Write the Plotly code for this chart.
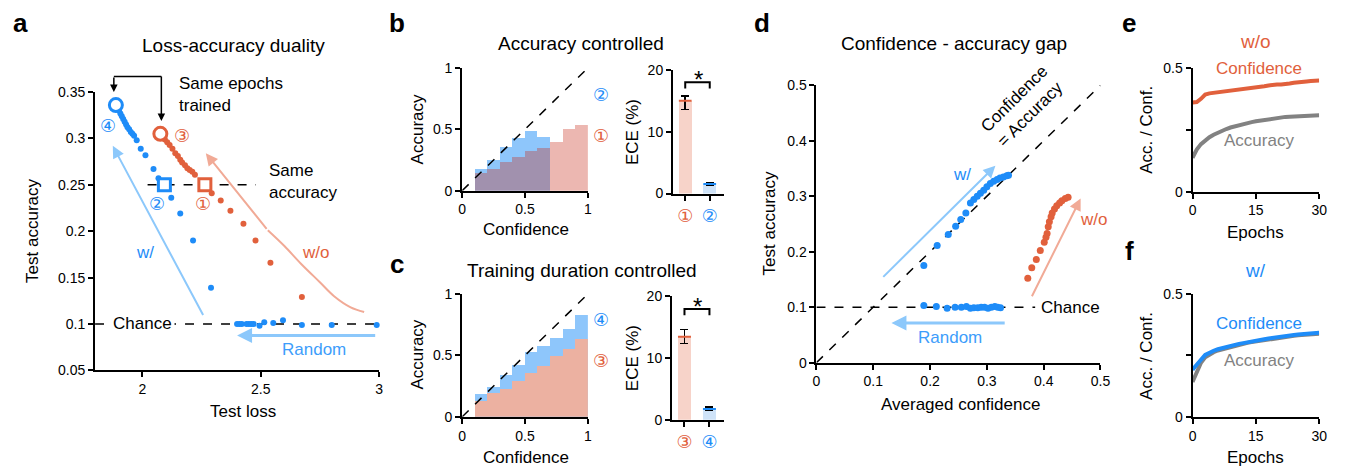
import plotly.graph_objects as go

W, H = 1348, 475
BLUE = '#1e8cf8'
ORANGE = '#e1603c'
LBLUE = '#8cc8fb'
RANDBLUE = '#3d9dfb'
LORANGE = '#f1aa96'
GRAY = '#828282'
FONT = 'Liberation Sans, Arial, Helvetica, sans-serif'
CIRC_SIZE = 18

# ---------------- data ----------------
CHANCE = 0.1
SAME_ACC = 0.25

# panel a: test loss vs test accuracy
w_loss = [1.888, 1.895, 1.901, 1.907, 1.913, 1.919, 1.925, 1.931, 1.937, 1.944, 1.951,
          1.958, 1.965, 1.976, 1.993, 2.013, 2.047, 2.068, 2.093, 2.122, 2.160, 2.214, 2.290]
w_acc = [0.336, 0.333, 0.330, 0.327, 0.324, 0.321, 0.318, 0.315, 0.312, 0.310, 0.307,
         0.305, 0.303, 0.298, 0.289, 0.282, 0.267, 0.257, 0.250, 0.236, 0.219, 0.190, 0.139]
w_same_idx = 18
rand_loss = [2.40, 2.41, 2.42, 2.44, 2.45, 2.46, 2.47, 2.495, 2.515, 2.553, 2.594, 2.674, 2.80, 2.99]
rand_acc = [0.100, 0.100, 0.100, 0.100, 0.100, 0.100, 0.100, 0.098, 0.102, 0.101, 0.104, 0.099, 0.099, 0.099]
wo_loss = [2.076, 2.085, 2.095, 2.105, 2.115, 2.127, 2.139, 2.150, 2.160, 2.168, 2.180, 2.190,
           2.200, 2.211, 2.222, 2.264, 2.293, 2.331, 2.372, 2.427, 2.478, 2.541, 2.674]
wo_acc = [0.305, 0.302, 0.299, 0.296, 0.293, 0.289, 0.284, 0.281, 0.277, 0.274, 0.271, 0.268,
          0.266, 0.264, 0.261, 0.250, 0.241, 0.233, 0.222, 0.208, 0.190, 0.166, 0.129]
wo_same_idx = 15
wo_curve_x = [2.53, 2.60, 2.67, 2.75, 2.81, 2.88, 2.937]
wo_curve_y = [0.201, 0.184, 0.165, 0.145, 0.130, 0.118, 0.113]

# panels b, c: reliability histograms (bin left edges)
bin_left = [0.1, 0.2, 0.3, 0.4, 0.5, 0.6, 0.7, 0.8, 0.9]
b_acc_1 = [0.144, 0.173, 0.231, 0.276, 0.320, 0.349, 0.400, 0.504, 0.533]
b_acc_2 = [0.176, 0.252, 0.354, 0.428, 0.490, 0.438, None, None, None]
c_acc_3 = [0.126, 0.192, 0.226, 0.289, 0.355, 0.410, 0.495, 0.553, 0.632]
c_acc_4 = [0.184, 0.242, 0.342, 0.421, 0.526, 0.574, 0.645, 0.718, 0.832]

# ECE bars
ece_b_labels = ['①', '②']
ece_b_mean = [15.0, 1.55]
ece_b_hi = [0.8, 0.25]
ece_b_lo = [1.4, 0.2]
ece_c_labels = ['③', '④']
ece_c_mean = [13.4, 1.72]
ece_c_hi = [1.2, 0.35]
ece_c_lo = [1.1, 0.25]

# panel d: averaged confidence vs test accuracy
dw_conf = [0.189, 0.2125, 0.232, 0.245, 0.254, 0.263, 0.271, 0.277, 0.283, 0.2886, 0.2944,
           0.300, 0.306, 0.312, 0.318, 0.323, 0.329, 0.335, 0.338]
dw_acc = [0.175, 0.211, 0.231, 0.246, 0.258, 0.270, 0.288, 0.294, 0.300, 0.3055, 0.311,
          0.317, 0.323, 0.327, 0.330, 0.333, 0.3345, 0.337, 0.338]
drand_conf = [0.189, 0.211, 0.230, 0.244, 0.255, 0.264, 0.271, 0.277, 0.284, 0.290, 0.296,
              0.302, 0.308, 0.314, 0.319, 0.324]
drand_acc = [0.103, 0.101, 0.098, 0.100, 0.100, 0.101, 0.098, 0.099, 0.099, 0.100, 0.100,
             0.098, 0.100, 0.101, 0.100, 0.099]
dwo_conf = [0.372, 0.379, 0.387, 0.394, 0.401, 0.404, 0.406, 0.408, 0.410, 0.413, 0.415,
            0.419, 0.423, 0.428, 0.432, 0.438, 0.443]
dwo_acc = [0.152, 0.171, 0.186, 0.202, 0.217, 0.226, 0.233, 0.245, 0.254, 0.263, 0.270,
           0.277, 0.283, 0.288, 0.292, 0.296, 0.298]

# panels e, f: curves over epochs
epochs = list(range(31))
e_conf = [0.360, 0.362, 0.375, 0.392, 0.397, 0.399, 0.401, 0.403, 0.405, 0.407, 0.410,
          0.413, 0.416, 0.418, 0.420, 0.422, 0.424, 0.426, 0.429, 0.432, 0.433, 0.433,
          0.434, 0.437, 0.440, 0.443, 0.444, 0.445, 0.447, 0.448, 0.449]
e_acc = [0.137, 0.170, 0.192, 0.208, 0.220, 0.230, 0.239, 0.247, 0.253, 0.259, 0.264,
         0.268, 0.273, 0.277, 0.281, 0.284, 0.287, 0.290, 0.293, 0.296, 0.298, 0.300,
         0.302, 0.303, 0.304, 0.305, 0.306, 0.307, 0.308, 0.308, 0.309]
f_conf = [0.192, 0.210, 0.232, 0.252, 0.262, 0.269, 0.275, 0.280, 0.285, 0.289, 0.293,
          0.297, 0.300, 0.304, 0.307, 0.310, 0.313, 0.316, 0.319, 0.322, 0.324, 0.326,
          0.329, 0.331, 0.333, 0.335, 0.337, 0.338, 0.340, 0.341, 0.342]
f_acc = [0.142, 0.185, 0.220, 0.242, 0.255, 0.263, 0.270, 0.275, 0.280, 0.285, 0.289,
         0.293, 0.297, 0.301, 0.304, 0.307, 0.310, 0.313, 0.316, 0.319, 0.321, 0.323,
         0.326, 0.328, 0.330, 0.332, 0.334, 0.335, 0.336, 0.337, 0.338]


def px(x):
    return x / W


def py(y):
    return 1 - y / H


fig = go.Figure()

# ---------------- panel a ----------------
fig.add_trace(go.Scatter(x=[1.8, 3.0], y=[CHANCE, CHANCE], mode='lines',
                         line=dict(color='black', width=1.5, dash='dash'), xaxis='x', yaxis='y'))
fig.add_trace(go.Scatter(x=[2.022, 2.48], y=[SAME_ACC, SAME_ACC], mode='lines',
                         line=dict(color='black', width=1.5, dash='dash'), xaxis='x', yaxis='y'))
fig.add_trace(go.Scatter(x=wo_curve_x, y=wo_curve_y, mode='lines', line=dict(color=LORANGE, width=2, shape='spline'),
                         xaxis='x', yaxis='y'))
fig.add_trace(go.Scatter(x=w_loss, y=w_acc, mode='markers', marker=dict(color=BLUE, size=6),
                         xaxis='x', yaxis='y', cliponaxis=False))
fig.add_trace(go.Scatter(x=rand_loss, y=rand_acc, mode='markers', marker=dict(color=BLUE, size=6),
                         xaxis='x', yaxis='y', cliponaxis=False))
fig.add_trace(go.Scatter(x=wo_loss, y=wo_acc, mode='markers', marker=dict(color=ORANGE, size=6),
                         xaxis='x', yaxis='y', cliponaxis=False))
for xs, ys, col, si in [(w_loss, w_acc, BLUE, w_same_idx), (wo_loss, wo_acc, ORANGE, wo_same_idx)]:
    fig.add_trace(go.Scatter(x=[xs[0]], y=[ys[0]], mode='markers',
                             marker=dict(symbol='circle', size=13, color='white', line=dict(color=col, width=3)),
                             xaxis='x', yaxis='y', cliponaxis=False))
    fig.add_trace(go.Scatter(x=[xs[si]], y=[ys[si]], mode='markers',
                             marker=dict(symbol='square', size=12, color='white', line=dict(color=col, width=3)),
                             xaxis='x', yaxis='y', cliponaxis=False))

# ---------------- panel b/c histograms ----------------
for xa, ya, blue_vals, or_vals, or_color in [
        ('x2', 'y2', b_acc_2, b_acc_1, 'rgba(200,45,25,0.34)'),
        ('x4', 'y4', c_acc_4, c_acc_3, '#ecb1a1')]:
    fig.add_trace(go.Scatter(x=[0, 1], y=[0, 1], mode='lines', line=dict(color='black', width=1.5, dash='dash'),
                             xaxis=xa, yaxis=ya))
    fig.add_trace(go.Bar(x=bin_left, y=blue_vals, width=0.1, offset=0, marker=dict(color='#8ec6fb', line=dict(width=0)),
                         xaxis=xa, yaxis=ya))
    fig.add_trace(go.Bar(x=bin_left, y=or_vals, width=0.1, offset=0, marker=dict(color=or_color, line=dict(width=0)),
                         xaxis=xa, yaxis=ya))

# ---------------- ECE bars ----------------
for xa, ya, means, hi, lo in [('x3', 'y3', ece_b_mean, ece_b_hi, ece_b_lo),
                              ('x5', 'y5', ece_c_mean, ece_c_hi, ece_c_lo)]:
    fig.add_trace(go.Bar(x=[0, 1], y=means, width=0.52, marker=dict(color=['#f7d3c9', '#cfe3f8'], line=dict(width=0)),
                         error_y=dict(type='data', symmetric=False, array=hi, arrayminus=lo, color='black',
                                      thickness=1.5, width=4),
                         xaxis=xa, yaxis=ya))
    for i, col in enumerate([ORANGE, BLUE]):
        fig.add_trace(go.Scatter(x=[i - 0.26, i + 0.26], y=[means[i], means[i]], mode='lines',
                                 line=dict(color=col, width=2), xaxis=xa, yaxis=ya))

# ---------------- panel d ----------------
fig.add_trace(go.Scatter(x=[0, 0.5], y=[0, 0.5], mode='lines', line=dict(color='black', width=1.5, dash='dash'),
                         xaxis='x6', yaxis='y6'))
fig.add_trace(go.Scatter(x=[0, 0.385], y=[CHANCE, CHANCE], mode='lines',
                         line=dict(color='black', width=1.5, dash='dash'), xaxis='x6', yaxis='y6'))
fig.add_trace(go.Scatter(x=dw_conf, y=dw_acc, mode='markers', marker=dict(color=BLUE, size=7),
                         xaxis='x6', yaxis='y6'))
fig.add_trace(go.Scatter(x=drand_conf, y=drand_acc, mode='markers', marker=dict(color=BLUE, size=7),
                         xaxis='x6', yaxis='y6'))
fig.add_trace(go.Scatter(x=dwo_conf, y=dwo_acc, mode='markers', marker=dict(color=ORANGE, size=7),
                         xaxis='x6', yaxis='y6'))

# ---------------- panels e, f ----------------
fig.add_trace(go.Scatter(x=epochs, y=e_acc, mode='lines', line=dict(color=GRAY, width=4), xaxis='x7', yaxis='y7'))
fig.add_trace(go.Scatter(x=epochs, y=e_conf, mode='lines', line=dict(color=ORANGE, width=4), xaxis='x7', yaxis='y7'))
fig.add_trace(go.Scatter(x=epochs, y=f_acc, mode='lines', line=dict(color=GRAY, width=4), xaxis='x8', yaxis='y8'))
fig.add_trace(go.Scatter(x=epochs, y=f_conf, mode='lines', line=dict(color=BLUE, width=4), xaxis='x8', yaxis='y8'))


# ---------------- axes ----------------
def axis(domain, rng, tickvals, ticktext, anchor, **kw):
    d = dict(domain=domain, range=rng, tickvals=tickvals, ticktext=ticktext, anchor=anchor,
             showline=True, linecolor='black', linewidth=2, ticks='outside', ticklen=5, tickwidth=2,
             tickcolor='black', showgrid=False, zeroline=False, fixedrange=True,
             tickfont=dict(size=14, color='black', family=FONT))
    d.update(kw)
    return d


def circ(label, col):
    return '<span style="color:%s">%s</span>' % (col, label)


layout_axes = dict(
    xaxis=axis([px(92), px(379)], [1.8, 3.0], [2, 2.5, 3], ['2', '2.5', '3'], 'y'),
    yaxis=axis([py(375), py(87)], [0.05, 0.35], [0.05, 0.1, 0.15, 0.2, 0.25, 0.3, 0.35],
               ['0.05', '0.1', '0.15', '0.2', '0.25', '0.3', '0.35'], 'x'),
    xaxis2=axis([px(463), px(590)], [0, 1], [0, 0.5, 1], ['0', '0.5', '1'], 'y2'),
    yaxis2=axis([py(189), py(62)], [0, 1], [0, 0.5, 1], ['0', '0.5', '1'], 'x2'),
    xaxis3=axis([px(676), px(728)], [-0.5, 1.6], [0, 1],
                [circ(ece_b_labels[0], ORANGE), circ(ece_b_labels[1], BLUE)], 'y3',
                tickfont=dict(size=CIRC_SIZE, family='DejaVu Sans')),
    yaxis3=axis([py(192), py(64)], [0, 20], [0, 10, 20], ['0', '10', '20'], 'x3'),
    xaxis4=axis([px(463), px(590)], [0, 1], [0, 0.5, 1], ['0', '0.5', '1'], 'y4'),
    yaxis4=axis([py(423), py(296)], [0, 1], [0, 0.5, 1], ['0', '0.5', '1'], 'x4'),
    xaxis5=axis([px(675), px(728)], [-0.5, 1.6], [0, 1],
                [circ(ece_c_labels[0], ORANGE), circ(ece_c_labels[1], BLUE)], 'y5',
                tickfont=dict(size=CIRC_SIZE, family='DejaVu Sans')),
    yaxis5=axis([py(426), py(298)], [0, 20], [0, 10, 20], ['0', '10', '20'], 'x5'),
    xaxis6=axis([px(821), px(1108)], [0, 0.5], [0, 0.1, 0.2, 0.3, 0.4, 0.5],
                ['0', '0.1', '0.2', '0.3', '0.4', '0.5'], 'y6'),
    yaxis6=axis([py(367), py(80)], [0, 0.5], [0, 0.1, 0.2, 0.3, 0.4, 0.5],
                ['0', '0.1', '0.2', '0.3', '0.4', '0.5'], 'x6'),
    xaxis7=axis([px(1201), px(1329)], [0, 30], [0, 15, 30], ['0', '15', '30'], 'y7'),
    yaxis7=axis([py(190), py(62)], [0, 0.5], [0, 0.25, 0.5], ['0', '', '0.5'], 'x7'),
    xaxis8=axis([px(1201), px(1329)], [0, 30], [0, 15, 30], ['0', '15', '30'], 'y8'),
    yaxis8=axis([py(423), py(296)], [0, 0.5], [0, 0.25, 0.5], ['0', '', '0.5'], 'x8'),
)

# ---------------- annotations ----------------
ann = []


def T(text, x, y, size=17, color='black', angle=0, xanchor='center', align='center', bold=False, family=FONT):
    if bold:
        text = '<b>%s</b>' % text
    ann.append(dict(text=text, x=px(x), y=py(y), xref='paper', yref='paper', showarrow=False,
                    font=dict(size=size, color=color, family=family), textangle=angle,
                    xanchor=xanchor, yanchor='middle', align=align))


def D(text, x, y, xr, yr, size=17, color='black', angle=0, font=FONT, **kw):
    d = dict(text=text, x=x, y=y, xref=xr, yref=yr, showarrow=False,
             font=dict(size=size, color=color, family=font), textangle=angle,
             xanchor='center', yanchor='middle')
    d.update(kw)
    ann.append(d)


def ARROW(x, y, axv, ayv, xr, yr, color, width=2, head=2, size=1.2):
    ann.append(dict(text='', x=x, y=y, ax=axv, ay=ayv, xref=xr, yref=yr, axref=xr, ayref=yr,
                    showarrow=True, arrowhead=head, arrowsize=size, arrowwidth=width, arrowcolor=color,
                    standoff=0, startstandoff=0))


# panel letters
T('a', 17, 16, size=26, bold=True)
T('b', 397, 16, size=26, bold=True)
T('c', 397, 265, size=26, bold=True)
T('d', 766, 16, size=26, bold=True)
T('e', 1137, 16, size=26, bold=True)
T('f', 1137, 251, size=26, bold=True)

# titles
T('Loss-accuracy duality', 232, 39, size=19)
T('Accuracy controlled', 583, 37, size=19)
T('Training duration controlled', 584, 272, size=19)
T('Confidence - accuracy gap', 960, 37, size=19)
T('w/o', 1265, 35, size=19, color=ORANGE)
T('w/', 1265, 272, size=19, color=BLUE)

# axis titles
T('Test accuracy', 29, 231, angle=-90)
T('Test loss', 242, 418)
T('Accuracy', 418, 126, angle=-90)
T('Confidence', 527, 229)
T('ECE (%)', 635, 128, angle=-90)
T('Accuracy', 418, 359, angle=-90)
T('Confidence', 527, 465)
T('ECE (%)', 635, 362, angle=-90)
T('Test accuracy', 774, 223, angle=-90)
T('Averaged confidence', 967, 410)
T('Acc. / Conf.', 1155, 126, angle=-90)
T('Epochs', 1265, 232)
T('Acc. / Conf.', 1155, 360, angle=-90)
T('Epochs', 1265, 465)

# panel a labels
T('Same epochs<br>trained', 175, 90, xanchor='left', align='left')
T('Same<br>accuracy', 266, 180, xanchor='left', align='left')
D('④', 1.854, 0.3135, 'x', 'y', size=CIRC_SIZE, color=BLUE, font='DejaVu Sans')
D('③', 2.168, 0.303, 'x', 'y', size=CIRC_SIZE, color=ORANGE, font='DejaVu Sans')
D('②', 2.063, 0.230, 'x', 'y', size=CIRC_SIZE, color=BLUE, font='DejaVu Sans')
D('①', 2.256, 0.230, 'x', 'y', size=CIRC_SIZE, color=ORANGE, font='DejaVu Sans')
D('w/', 2.013, 0.177, 'x', 'y', color=BLUE)
D('w/o', 2.732, 0.177, 'x', 'y', color=ORANGE)
D('Random', 2.724, 0.072, 'x', 'y', color=RANDBLUE)
D('Chance', 2.0, CHANCE, 'x', 'y', bgcolor='white', borderpad=2)
ARROW(1.875, 0.292, 2.26, 0.108, 'x', 'y', LBLUE)
ARROW(2.40, 0.0875, 2.99, 0.0875, 'x', 'y', LBLUE, width=3, size=1.0)
ARROW(2.268, 0.284, wo_curve_x[0], wo_curve_y[0], 'x', 'y', LORANGE)
# "same epochs" bracket
ann.append(dict(text='', x=px(111), y=py(87), ax=0, ay=-16, xref='paper', yref='paper', showarrow=True,
                arrowhead=2, arrowsize=1, arrowwidth=1.5, arrowcolor='black', standoff=0))
ann.append(dict(text='', x=px(159), y=py(117), ax=0, ay=-46, xref='paper', yref='paper', showarrow=True,
                arrowhead=2, arrowsize=1, arrowwidth=1.5, arrowcolor='black', standoff=0))

# panel b/c labels
T('②', 603, 89, size=CIRC_SIZE, color=BLUE, family='DejaVu Sans')
T('①', 603, 132, size=CIRC_SIZE, color=ORANGE, family='DejaVu Sans')
T('④', 603, 322, size=CIRC_SIZE, color=BLUE, family='DejaVu Sans')
T('③', 603, 365, size=CIRC_SIZE, color=ORANGE, family='DejaVu Sans')
T('*', 702, 74, size=24)
T('*', 701, 309, size=24)

# panel d labels
D('Confidence<br>= Accuracy', 0.362, 0.462, 'x6', 'y6', size=17, angle=-45)
D('w/', 0.256, 0.340, 'x6', 'y6', color=BLUE)
D('w/o', 0.488, 0.258, 'x6', 'y6', color=ORANGE)
D('Chance', 0.448, CHANCE, 'x6', 'y6')
D('Random', 0.235, 0.045, 'x6', 'y6', color=RANDBLUE)
ARROW(0.315, 0.355, 0.115, 0.152, 'x6', 'y6', LBLUE)
ARROW(0.465, 0.296, 0.378, 0.117, 'x6', 'y6', LORANGE)
ARROW(0.132, 0.0714, 0.334, 0.0714, 'x6', 'y6', LBLUE, width=3, size=1.0)

# panel e/f labels
T('Confidence', 1268, 63, color=ORANGE)
T('Accuracy', 1268, 137, color=GRAY)
T('Confidence', 1268, 326, color=BLUE)
T('Accuracy', 1268, 365, color=GRAY)

# ---------------- shapes ----------------
shapes = [
    dict(type='line', xref='paper', yref='paper', x0=px(111), x1=px(159), y0=py(71), y1=py(71),
         line=dict(color='black', width=1.5)),
    dict(type='path', xref='x3', yref='y3', path='M 0,17.0 L 0,18.0 L 1,18.0 L 1,17.0',
         line=dict(color='black', width=2)),
    dict(type='path', xref='x5', yref='y5', path='M 0,16.9 L 0,17.9 L 1,17.9 L 1,16.9',
         line=dict(color='black', width=2)),
]

fig.update_layout(
    width=W, height=H, margin=dict(l=0, r=0, t=0, b=0),
    paper_bgcolor='white', plot_bgcolor='white',
    showlegend=False, barmode='overlay', bargap=0,
    font=dict(family=FONT, size=14, color='black'),
    annotations=ann, shapes=shapes,
    **layout_axes,
)

fig.write_html('out.html', config={'displayModeBar': False},
               post_script="document.body.style.margin='0';document.body.style.overflow='hidden';")
